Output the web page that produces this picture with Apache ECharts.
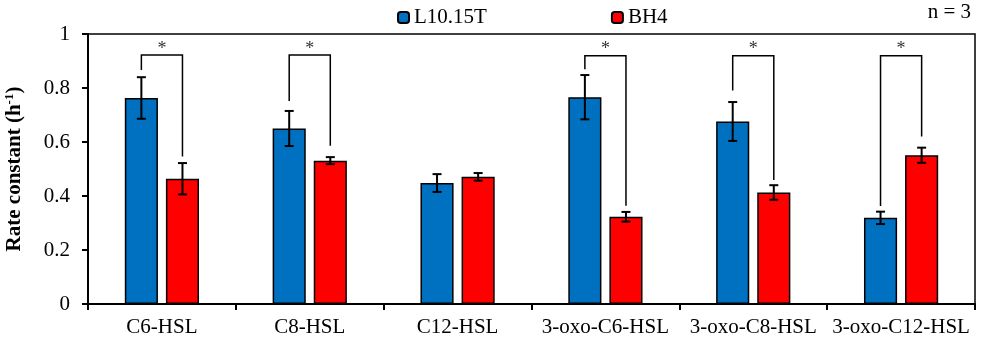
<!DOCTYPE html>
<html>
<head>
<meta charset="utf-8">
<script src="https://cdn.jsdelivr.net/npm/echarts@6/dist/echarts.min.js"></script>
<style>html,body{margin:0;padding:0;background:#fff}#c{width:981px;height:341px}</style>
</head>
<body>
<div id="c"></div>
<script>
var categories = ['C6-HSL', 'C8-HSL', 'C12-HSL', '3-oxo-C6-HSL', '3-oxo-C8-HSL', '3-oxo-C12-HSL'];
var seriesNames = ['L10.15T', 'BH4'];
var blueValues = [0.763, 0.650, 0.448, 0.766, 0.676, 0.319];
var blueErr = [0.077, 0.065, 0.033, 0.082, 0.072, 0.023];
var redValues = [0.464, 0.531, 0.471, 0.323, 0.413, 0.551];
var redErr = [0.058, 0.013, 0.014, 0.018, 0.027, 0.028];
// significance brackets: [category index, left leg bottom, right leg bottom, bracket top]
var brackets = [
  [0, 0.867, 0.546, 0.922],
  [1, 0.752, 0.586, 0.922],
  [3, 0.869, 0.364, 0.919],
  [4, 0.791, 0.459, 0.919],
  [5, 0.363, 0.620, 0.919]
];
var starLevel = 0.945;
var yTicks = {min: 0, max: 1, interval: 0.2};

var FONT = 'Liberation Serif, Times New Roman, serif';
var BAR_W = 0.224, GAP = 0.054; // fractions of the category band
var OFF = (BAR_W + GAP) / 2;

function errData(vals, errs) {
  return vals.map(function (v, i) { return [i, v, errs[i]]; });
}
function errRender(side) {
  return function (params, api) {
    var i = api.value(0), v = api.value(1), e = api.value(2);
    var bw = api.size([1, 0])[0];
    var c = api.coord([i, v]);
    var x = c[0] + side * OFF * bw;
    var yt = api.coord([i, v + e])[1];
    var yb = api.coord([i, v - e])[1];
    var hw = 4.5;
    var st = {stroke: '#000', lineWidth: 2};
    return {type: 'group', children: [
      {type: 'line', shape: {x1: x, y1: yt, x2: x, y2: yb}, style: st},
      {type: 'line', shape: {x1: x - hw, y1: yt, x2: x + hw, y2: yt}, style: st},
      {type: 'line', shape: {x1: x - hw, y1: yb, x2: x + hw, y2: yb}, style: st}
    ]};
  };
}
function bracketRender(params, api) {
  var i = api.value(0), lb = api.value(1), rb = api.value(2), top = api.value(3);
  var bw = api.size([1, 0])[0];
  var cx = api.coord([i, 0])[0];
  var xl = cx - OFF * bw, xr = cx + OFF * bw;
  var yl = api.coord([i, lb])[1], yr = api.coord([i, rb])[1], yt = api.coord([i, top])[1];
  var ys = api.coord([i, starLevel])[1];
  return {type: 'group', children: [
    {type: 'polyline', shape: {points: [[xl, yl], [xl, yt], [xr, yt], [xr, yr]]},
     style: {stroke: '#000', lineWidth: 1.5, fill: null}},
    {type: 'text', x: cx, y: ys, style: {text: '*', fontSize: 18, fontFamily: FONT, fill: '#333', align: 'center', verticalAlign: 'middle'}}
  ]};
}

var chart = echarts.init(document.getElementById('c'));
chart.setOption({
  animation: false,
  textStyle: {fontFamily: FONT},
  legend: {
    data: seriesNames, left: 392, top: 2, itemWidth: 11, itemHeight: 11, itemGap: 124,
    textStyle: {fontFamily: FONT, fontSize: 21, color: '#000'}
  },
  graphic: [{type: 'text', right: 10, top: 2, style: {text: 'n = 3', fontFamily: FONT, fontSize: 21, fill: '#000'}}],
  grid: {left: 88, right: 6, top: 34, bottom: 37, show: true, borderColor: '#000', borderWidth: 1.5, outerBoundsMode: 'none', containLabel: false},
  xAxis: {
    type: 'category', data: categories,
    axisLine: {lineStyle: {color: '#000', width: 2}},
    axisTick: {show: true, length: 6, lineStyle: {color: '#000', width: 2}},
    axisLabel: {fontFamily: FONT, fontSize: 21, color: '#000', margin: 13, interval: 0}
  },
  yAxis: {
    type: 'value', min: yTicks.min, max: yTicks.max, interval: yTicks.interval,
    name: '{a|Rate constant (h}{s|-1}{a|)}', nameLocation: 'middle', nameGap: 62,
    nameTextStyle: {
      rich: {
        a: {fontFamily: FONT, fontSize: 21, fontWeight: 'bold', color: '#000'},
        s: {fontFamily: FONT, fontSize: 13, fontWeight: 'bold', color: '#000', verticalAlign: 'top', padding: [0, 0, 10, 0]}
      }
    },
    splitLine: {show: false},
    axisLine: {show: true, lineStyle: {color: '#000', width: 2}},
    axisTick: {show: true, length: 6, lineStyle: {color: '#000', width: 2}},
    axisLabel: {fontFamily: FONT, fontSize: 21, color: '#000', margin: 18}
  },
  series: [
    {name: seriesNames[0], type: 'bar', data: blueValues, barWidth: (BAR_W * 100) + '%', barGap: (GAP / BAR_W * 100) + '%',
     itemStyle: {color: '#0070C0', borderColor: '#000', borderWidth: 1.5}},
    {name: seriesNames[1], type: 'bar', data: redValues, barWidth: (BAR_W * 100) + '%',
     itemStyle: {color: '#FF0000', borderColor: '#000', borderWidth: 1.5}},
    {type: 'custom', data: errData(blueValues, blueErr), renderItem: errRender(-1), z: 5, silent: true},
    {type: 'custom', data: errData(redValues, redErr), renderItem: errRender(1), z: 5, silent: true},
    {type: 'custom', data: brackets, renderItem: bracketRender, z: 5, silent: true}
  ]
});
</script>
</body>
</html>
